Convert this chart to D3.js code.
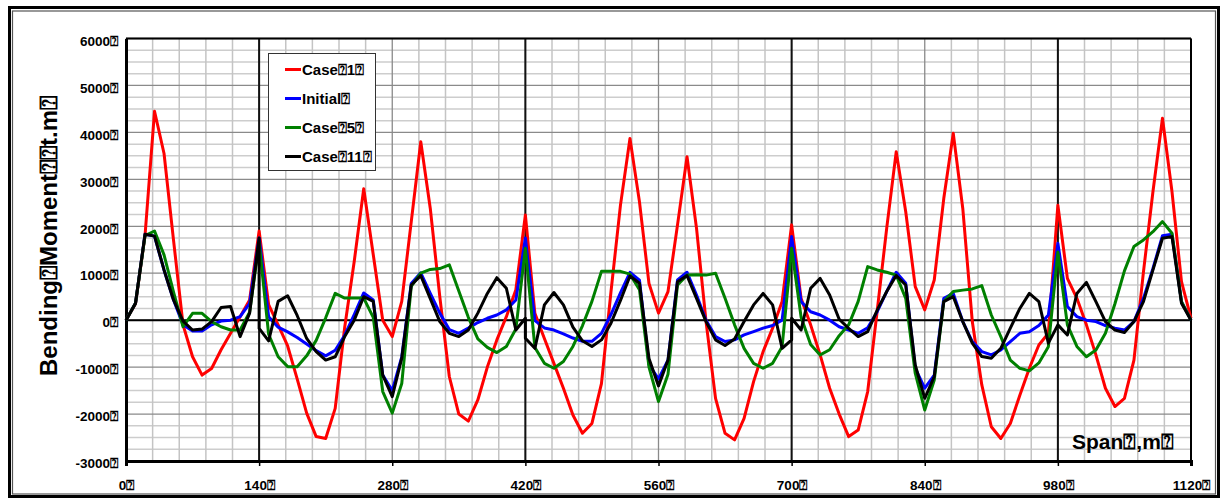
<!DOCTYPE html>
<html>
<head>
<meta charset="utf-8">
<script src="https://cdn.jsdelivr.net/npm/d3@7"></script>
<style>
  html, body { margin: 0; padding: 0; background: #fff; }
  svg { display: block; }
  text { font-family: "Liberation Sans Narrow", "Liberation Sans", Arial, sans-serif; font-weight: bold; fill: #000; }
</style>
</head>
<body>
<svg id="chart" width="1221" height="499"></svg>
<script>
// Stations along the span (m); supports at 140/420/700 carry a second value (left/right of the support)
const stations = [
  0, 10, 20, 30, 40, 50, 60, 70, 80, 90,
  100, 110, 120, 130, 140, 140, 150, 160, 170, 180, 190,
  200, 210, 220, 230, 240, 250, 260, 270, 280, 290,
  300, 310, 320, 330, 340, 350, 360, 370, 380, 390,
  400, 410, 420, 420, 430, 440, 450, 460, 470, 480, 490,
  500, 510, 520, 530, 540, 550, 560, 570, 580, 590,
  600, 610, 620, 630, 640, 650, 660, 670, 680, 690,
  700, 700, 710, 720, 730, 740, 750, 760, 770, 780, 790,
  800, 810, 820, 830, 840, 850, 860, 870, 880, 890,
  900, 910, 920, 930, 940, 950, 960, 970, 980, 990,
  1000, 1010, 1020, 1030, 1040, 1050, 1060, 1070, 1080, 1090,
  1100, 1110, 1120
];

// Bending moment (t.m) for each load case
const case1 = [
  0, 350, 1800, 4450, 3550, 1700, -100, -780, -1170, -1030,
  -630, -280, 75, 430, 1900, 1900, 330, -100, -550, -1250, -1980,
  -2480, -2520, -1880, -150, 1250, 2800, 1400, 0, -350, 400,
  2100, 3800, 2380, 500, -1200, -2000, -2150, -1700, -1000, -420,
  75, 650, 2240, 2240, 145, -390, -920, -1450, -2020, -2410, -2200,
  -1350, 600, 2450, 3870, 2520, 780, 150, 610, 2030, 3480,
  1955, -30, -1665, -2410, -2550, -2090, -1310, -670, -170, 400,
  2030, 2030, 460, -100, -740, -1450, -2000, -2480, -2340, -1520, 200,
  1960, 3590, 2310, 715, 220, 855, 2590, 3980, 2380, -30,
  -1380, -2270, -2520, -2200, -1600, -1025, -530, -280, 2450, 890,
  465, -100, -740, -1450, -1840, -1665, -850, 1030, 2740, 4300,
  2740, 820, 40
];

const initial = [
  0, 360, 1830, 1790, 1070, 430, -100, -230, -230, -100,
  -20, 0, 75, 360, 1750, 1750, 75, -150, -250, -370, -510,
  -650, -760, -640, -320, 120, 580, 430, -1170, -1500, -780,
  780, 1010, 570, 150, -200, -280, -170, -50, 40, 110,
  220, 430, 1750, 1750, -10, -165, -210, -290, -380, -450, -450,
  -280, 120, 580, 1020, 850, -950, -1250, -850, 855, 1020,
  535, 0, -350, -455, -420, -315, -245, -170, -115, 0,
  1780, 1780, 395, 180, 110, 0, -140, -210, -280, -160, 180,
  610, 1020, 785, -1025, -1450, -1170, 465, 570, -30, -455,
  -670, -740, -635, -455, -280, -245, -115, 110, 1640, 290,
  75, 0, -30, -115, -170, -210, -30, 465, 1100, 1800,
  1830, 395, 0
];

const case5 = [
  0, 360, 1800, 1900, 1390, 600, -140, 145, 145, -30,
  -140, -210, -210, 170, 1650, 1650, -300, -780, -990, -990, -760,
  -430, 50, 570, 470, 470, 470, 60, -1520, -1980, -1350,
  720, 1000, 1080, 1100, 1180, 620, 60, -400, -580, -690,
  -560, -190, 1530, 1530, -580, -920, -1025, -880, -560, -120, 400,
  1040, 1040, 1040, 980, 650, -1000, -1735, -1150, 750, 960,
  965, 960, 1000, 465, -100, -600, -920, -1025, -920, -565,
  1530, 1530, 60, -520, -740, -630, -330, -100, 400, 1140, 1070,
  1020, 960, 465, -1130, -1915, -1275, 395, 610, 640, 665,
  735, 110, -350, -850, -1025, -1080, -910, -565, 1450, -100,
  -560, -780, -635, -280, 350, 1050, 1570, 1710, 1885, 2100,
  1850, 395, 0
];

const case11 = [
  0, 360, 1830, 1790, 1070, 430, -20, -210, -190, -30,
  270, 290, -350, 150, 1750, -175, -440, 400, 520, 100, -390,
  -670, -850, -780, -350, 0, 500, 400, -1170, -1630, -810,
  750, 950, 460, -30, -280, -350, -210, 150, 570, 905,
  680, -210, 40, -385, -600, 325, 590, 325, -150, -440, -560,
  -420, -65, 420, 940, 785, -815, -1400, -850, 820, 950,
  465, -30, -420, -540, -400, -30, 325, 570, 325, -600,
  -420, 40, -210, 680, 890, 535, 20, -175, -350, -245, 215,
  610, 950, 750, -955, -1665, -1200, 395, 500, -30, -490,
  -775, -810, -600, -170, 250, 570, 395, -490, -100, -315,
  570, 805, 395, -30, -210, -265, -30, 395, 1070, 1745,
  1780, 360, 0
];

const seriesNames = ["Case\u23701\u2370", "Initial\u2370", "Case\u23705\u2370", "Case\u237011\u2370"];
const seriesColors = ["#ff0000", "#0000ff", "#008000", "#000000"];
const seriesValues = [case1, initial, case5, case11];

const xTicks = [0, 140, 280, 420, 560, 700, 840, 980, 1120];
const yTicks = [-3000, -2000, -1000, 0, 1000, 2000, 3000, 4000, 5000, 6000];
const supports = [140, 420, 700, 980];
const tickMark = "\u2370";
const yTitle = "Bending\u2370Moment\u2370\u2370t.m\u2370";
const xTitle = "Span\u2370,m\u2370";

const svg = d3.select("#chart");
const plot = { left: 126, right: 1191, top: 38.5, bottom: 461 };

const x = d3.scaleLinear().domain([0, 1120]).range([plot.left, plot.right]);
const y = d3.scaleLinear().domain([-3000, 6000]).range([plot.bottom, plot.top]);

// outer double frame
svg.append("rect").attr("x", 9.5).attr("y", 7.5).attr("width", 1209).attr("height", 489)
  .attr("fill", "none").attr("stroke", "#000").attr("stroke-width", 3);
svg.append("rect").attr("x", 12.5).attr("y", 11).attr("width", 1203).attr("height", 483)
  .attr("fill", "none").attr("stroke", "#555").attr("stroke-width", 1.2);

// gridlines
const grid = svg.append("g");
const minorY = d3.range(-3000, 6001, 250).filter(v => v % 1000 !== 0);
grid.selectAll("line.hmin").data(minorY).join("line")
  .attr("x1", plot.left).attr("x2", plot.right)
  .attr("y1", d => y(d)).attr("y2", d => y(d))
  .attr("stroke", "#cdcdcd").attr("stroke-width", 1.5);
const minorX = d3.range(0, 1121, 28).filter(v => v % 140 !== 0);
grid.selectAll("line.vmin").data(minorX).join("line")
  .attr("x1", d => x(d)).attr("x2", d => x(d))
  .attr("y1", plot.top).attr("y2", plot.bottom)
  .attr("stroke", "#c4c4c4").attr("stroke-width", 1.5);
grid.selectAll("line.hmaj").data(yTicks).join("line")
  .attr("x1", plot.left).attr("x2", plot.right)
  .attr("y1", d => y(d)).attr("y2", d => y(d))
  .attr("stroke", "#8a8a8a").attr("stroke-width", 1.3);
grid.selectAll("line.vmaj").data(xTicks).join("line")
  .attr("x1", d => x(d)).attr("x2", d => x(d))
  .attr("y1", plot.top).attr("y2", plot.bottom)
  .attr("stroke", "#8a8a8a").attr("stroke-width", 1.3);

// supports
svg.append("g").selectAll("line").data(supports).join("line")
  .attr("x1", d => x(d)).attr("x2", d => x(d))
  .attr("y1", plot.top).attr("y2", plot.bottom)
  .attr("stroke", "#111").attr("stroke-width", 2);

// zero line
svg.append("line").attr("x1", plot.left).attr("x2", plot.right)
  .attr("y1", y(0)).attr("y2", y(0)).attr("stroke", "#000").attr("stroke-width", 2);

// plot border
svg.append("line").attr("x1", plot.left).attr("x2", plot.right)
  .attr("y1", plot.top).attr("y2", plot.top).attr("stroke", "#000").attr("stroke-width", 2);
svg.append("line").attr("x1", plot.right).attr("x2", plot.right)
  .attr("y1", plot.top).attr("y2", plot.bottom).attr("stroke", "#000").attr("stroke-width", 2);

// axes
const xAxis = svg.append("g").attr("transform", `translate(0,${plot.bottom})`)
  .call(d3.axisBottom(x).tickValues(xTicks).tickSize(5).tickPadding(14).tickFormat(d => d + tickMark));
xAxis.select(".domain").attr("stroke", "#000").attr("stroke-width", 3);
xAxis.selectAll(".tick line").attr("stroke", "#000").attr("stroke-width", 1.5);
xAxis.selectAll("text").attr("font-size", 13.5).attr("font-family", null);

const yAxis = svg.append("g").attr("transform", `translate(${plot.left},0)`)
  .call(d3.axisLeft(y).tickValues(yTicks).tickSize(0).tickPadding(8).tickFormat(d => d + tickMark));
yAxis.select(".domain").attr("stroke", "#000").attr("stroke-width", 3);
yAxis.selectAll("text").attr("font-size", 13.5).attr("font-family", null).attr("dy", "0.5em");

// series lines
const line = d3.line().x((d, i) => x(stations[i])).y(d => y(d));
svg.append("g").selectAll("path").data(seriesValues).join("path")
  .attr("d", d => line(d))
  .attr("fill", "none")
  .attr("stroke", (d, i) => seriesColors[i])
  .attr("stroke-width", 3)
  .attr("stroke-linejoin", "round");

// axis titles
svg.append("text").attr("transform", "translate(57,236) rotate(-90)")
  .attr("text-anchor", "middle").attr("font-size", 24).text(yTitle);
svg.append("text").attr("x", 1072).attr("y", 449).attr("font-size", 21).text(xTitle);

// legend
const legend = svg.append("g");
legend.append("rect").attr("x", 268.5).attr("y", 53.5).attr("width", 107).attr("height", 117)
  .attr("fill", "#fff").attr("stroke", "#333").attr("stroke-width", 1);
const legendY = [69.5, 98.5, 127.5, 156.5];
seriesNames.forEach((name, i) => {
  legend.append("line").attr("x1", 285).attr("x2", 301)
    .attr("y1", legendY[i]).attr("y2", legendY[i])
    .attr("stroke", seriesColors[i]).attr("stroke-width", 3);
  legend.append("text").attr("x", 302).attr("y", legendY[i]).attr("dy", "0.36em")
    .attr("font-size", 15).text(name);
});
</script>
</body>
</html>
